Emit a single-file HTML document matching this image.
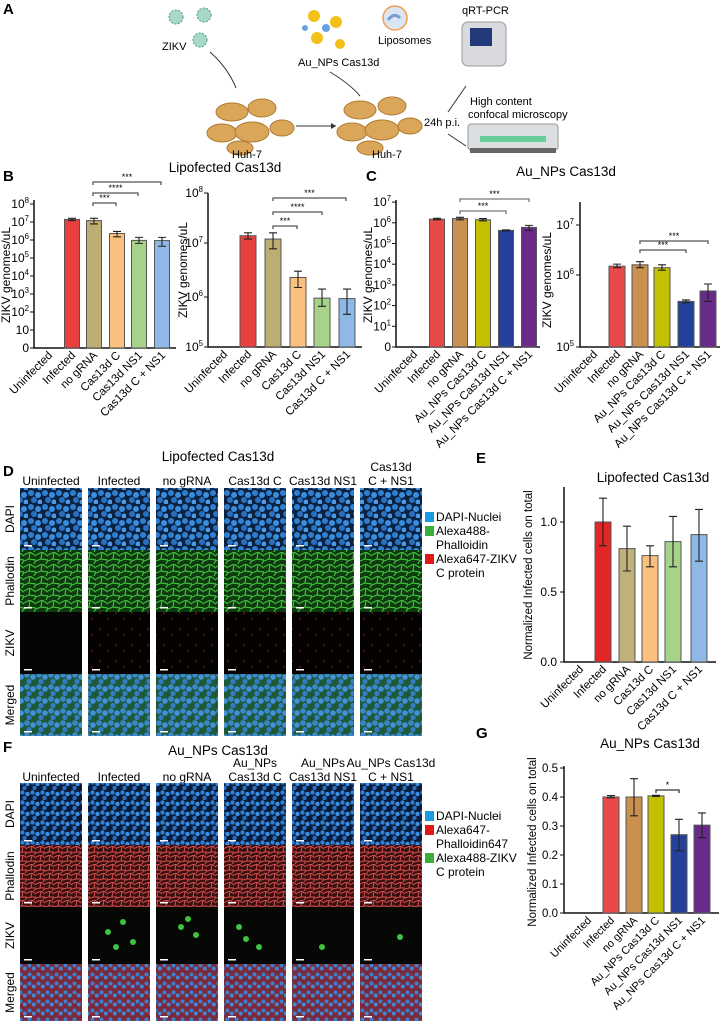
<!DOCTYPE html>
<html><head><meta charset="utf-8">
<style>
html,body{margin:0;padding:0;background:#fff;}
svg{display:block;font-family:"Liberation Sans",Arial,sans-serif;}
</style></head>
<body>
<svg id="fig" width="726" height="1022" viewBox="0 0 726 1022">
<defs>
  <pattern id="dapi" width="14" height="14" patternUnits="userSpaceOnUse">
    <rect width="14" height="14" fill="#0b2240"/>
    <circle cx="3" cy="3" r="3" fill="#2f7fd0"/><circle cx="10" cy="5" r="3" fill="#3a8ee0"/>
    <circle cx="6" cy="10" r="3" fill="#2a70c0"/><circle cx="12" cy="12" r="2.5" fill="#4a9ae8"/>
  </pattern>
  <pattern id="dapi2" width="10" height="10" patternUnits="userSpaceOnUse">
    <rect width="10" height="10" fill="#0a1c38"/>
    <circle cx="2.5" cy="2.5" r="2.2" fill="#2f80d8"/><circle cx="7.5" cy="4" r="2.2" fill="#3b90e6"/>
    <circle cx="4.5" cy="8" r="2.2" fill="#2a6fc4"/>
  </pattern>
  <pattern id="phal" width="12" height="12" patternUnits="userSpaceOnUse">
    <rect width="12" height="12" fill="#0f3a10"/>
    <path d="M0 3 L6 0 L12 4 M6 0 L5 7 L0 9 M5 7 L12 8 L10 12" stroke="#3fbf3a" stroke-width="1.2" fill="none"/>
  </pattern>
  <pattern id="phalr" width="9" height="9" patternUnits="userSpaceOnUse">
    <rect width="9" height="9" fill="#3a1010"/>
    <path d="M0 2 L5 0 L9 3 M5 0 L4 6 L0 7 M4 6 L9 6 L7 9" stroke="#d85050" stroke-width="1" fill="none"/>
  </pattern>
  <pattern id="zred" width="16" height="16" patternUnits="userSpaceOnUse">
    <rect width="16" height="16" fill="#050202"/>
    <circle cx="4" cy="5" r="0.8" fill="#a02a2a"/><circle cx="12" cy="11" r="0.8" fill="#902020"/>
  </pattern>
  <pattern id="merged" width="12" height="12" patternUnits="userSpaceOnUse">
    <rect width="12" height="12" fill="#1d5a3a"/>
    <circle cx="3" cy="3" r="2.8" fill="#3a86cf"/><circle cx="9" cy="5" r="2.8" fill="#4592d8"/>
    <circle cx="5" cy="9.5" r="2.6" fill="#357cc4"/>
  </pattern>
  <pattern id="merged2" width="9" height="9" patternUnits="userSpaceOnUse">
    <rect width="9" height="9" fill="#7a2a3a"/>
    <circle cx="2.5" cy="2.5" r="2" fill="#3a7fd0"/><circle cx="6.8" cy="5.5" r="2" fill="#4288d8"/>
  </pattern>
</defs>

<!-- Panel A -->
<g font-size="11">
  <text x="3" y="14" font-size="15" font-weight="bold">A</text>
  <g fill="#a8d8c8" stroke="#4a9a8a" stroke-dasharray="2 1.5">
    <circle cx="176" cy="17" r="7"/><circle cx="204" cy="15" r="7"/><circle cx="200" cy="40" r="7"/>
  </g>
  <text x="162" y="50">ZIKV</text>
  <path d="M210 52 Q228 68 236 88" stroke="#333" fill="none"/>
  <g fill="#d9a65a" stroke="#b07a30">
    <ellipse cx="232" cy="112" rx="16" ry="9"/><ellipse cx="262" cy="108" rx="14" ry="9"/>
    <ellipse cx="222" cy="133" rx="15" ry="9"/><ellipse cx="252" cy="132" rx="17" ry="10"/>
    <ellipse cx="282" cy="128" rx="12" ry="8"/><ellipse cx="240" cy="148" rx="13" ry="7"/>
  </g>
  <text x="232" y="158">Huh-7</text>
  <path d="M296 126 L336 126" stroke="#333"/><path d="M336 126 l-5 -3 v6z" fill="#333"/>
  <g>
    <circle cx="314" cy="16" r="6" fill="#f2c018"/><circle cx="336" cy="22" r="6" fill="#f2c018"/>
    <circle cx="317" cy="38" r="6" fill="#f2c018"/><circle cx="340" cy="44" r="5" fill="#f2c018"/>
    <circle cx="326" cy="28" r="4" fill="#6aa0e0"/><circle cx="305" cy="28" r="3" fill="#6aa0e0"/>
  </g>
  <text x="298" y="66">Au_NPs Cas13d</text>
  <g><circle cx="395" cy="18" r="12" fill="#dbe6f5" stroke="#f0a050" stroke-width="1.5"/><path d="M388 20 q6 -8 12 -2" stroke="#7a9ad0" stroke-width="3" fill="none"/></g>
  <text x="378" y="44">Liposomes</text>
  <path d="M330 72 Q350 84 360 96" stroke="#333" fill="none"/>
  <g fill="#d9a65a" stroke="#b07a30">
    <ellipse cx="360" cy="110" rx="16" ry="9"/><ellipse cx="392" cy="106" rx="14" ry="9"/>
    <ellipse cx="352" cy="132" rx="15" ry="9"/><ellipse cx="382" cy="130" rx="17" ry="10"/>
    <ellipse cx="410" cy="126" rx="12" ry="8"/><ellipse cx="370" cy="148" rx="13" ry="7"/>
  </g>
  <text x="372" y="158">Huh-7</text>
  <text x="424" y="126">24h p.i.</text>
  <path d="M448 112 L466 86 M448 134 L466 146" stroke="#333"/>
  <text x="462" y="14">qRT-PCR</text>
  <g>
    <rect x="462" y="22" width="44" height="44" rx="6" fill="#d8dade" stroke="#999"/>
    <rect x="470" y="28" width="22" height="18" fill="#223a7a"/>
  </g>
  <text x="470" y="105">High content</text>
  <text x="468" y="118">confocal microscopy</text>
  <g>
    <rect x="468" y="124" width="90" height="26" rx="3" fill="#dcdfe2" stroke="#999"/>
    <rect x="480" y="136" width="66" height="6" fill="#6c9"/>
    <rect x="470" y="148" width="86" height="5" fill="#666"/>
  </g>
</g>

<g id="charts"></g>
<g id="micro"></g>
</svg>

<script>
// ---------------- DATA ----------------
const bCategories = ["Uninfected","Infected","no gRNA","Cas13d C","Cas13d NS1","Cas13d C + NS1"];
const bValues = [0, 1.4e7, 1.2e7, 2.3e6, 9.5e5, 9.3e5];
const bErrLow = [0, 1.2e7, 7.8e6, 1.5e6, 6.5e5, 4.5e5];
const bErrHigh = [0, 1.6e7, 1.6e7, 3.0e6, 1.4e6, 1.4e6];
const bColors = ["#e8403f","#e8403f","#bcae72","#fbbf7e","#a6d28a","#8fb8e6"];

const cCategories = ["Uninfected","Infected","no gRNA","Au_NPs Cas13d C","Au_NPs Cas13d NS1","Au_NPs Cas13d C + NS1"];
const cValues = [0, 1.5e6, 1.6e6, 1.4e6, 4.3e5, 6.0e5];
const cErrLow = [0, 1.4e6, 1.4e6, 1.25e6, 4.1e5, 4.3e5];
const cErrHigh = [0, 1.65e6, 1.85e6, 1.6e6, 4.5e5, 7.5e5];
const cColors = ["#e84a4a","#e84a4a","#c99050","#c2c000","#24409a","#6a2a8a"];

const eValues = [0, 1.0, 0.81, 0.76, 0.86, 0.91];
const eErrLow = [0, 0.83, 0.65, 0.68, 0.68, 0.72];
const eErrHigh = [0, 1.17, 0.97, 0.83, 1.04, 1.09];
const eColors = ["#e22525","#e22525","#c0b07a","#fbbf7e","#a6d28a","#8fb8e6"];
const eTicks = [0, 0.5, 1.0];

const gValues = [0, 0.40, 0.40, 0.404, 0.27, 0.303];
const gErrLow = [0, 0.397, 0.335, 0.402, 0.215, 0.26];
const gErrHigh = [0, 0.405, 0.463, 0.406, 0.323, 0.345];
const gColors = ["#e84a4a","#e84a4a","#c99050","#c2c000","#24409a","#6a2a8a"];
const gTicks = [0, 0.1, 0.2, 0.3, 0.4, 0.5];

const microCols1 = ["Uninfected","Infected","no gRNA","Cas13d C","Cas13d NS1","Cas13d|C + NS1"];
const microCols2 = ["Uninfected","Infected","no gRNA","Au_NPs|Cas13d C","Au_NPs|Cas13d NS1","Au_NPs Cas13d|C + NS1"];
const microRows = ["DAPI","Phallodin","ZIKV","Merged"];

// ---------------- HELPERS ----------------
const NS = "http://www.w3.org/2000/svg";
const charts = document.getElementById("charts");
function mk(tag, attrs, parent, text){
  const e = document.createElementNS(NS, tag);
  for (const k in attrs) e.setAttribute(k, attrs[k]);
  if (text !== undefined) e.textContent = text;
  (parent || charts).appendChild(e);
  return e;
}
function supText(parent, x, y, base, exp, size){
  const t = mk("text", {x:x, y:y, "text-anchor":"end", "font-size":size}, parent);
  
  
  const s1 = document.createElementNS(NS,"tspan"); s1.textContent = base; t.appendChild(s1);
  if (exp !== null){
    const s2 = document.createElementNS(NS,"tspan"); s2.textContent = exp;
    s2.setAttribute("dy","-5"); s2.setAttribute("font-size", size*0.65); t.appendChild(s2);
  }
}

function logScaleB(v){ const y0=348, per=18; return v<=0 ? y0 : y0 - Math.log10(v)*per; }
function logScaleB2(v){ const y0=347, y1=297, y2=243, y3=193; if(v<=1e5) return y0; const l=Math.log10(v);
  if (l<=6) return y0-(l-5)*(y0-y1); if (l<=7) return y1-(l-6)*(y1-y2); return y2-(l-7)*(y2-y3); }
function logScaleC(v){ const y0=347, per=20.7; return v<=0 ? y0 : y0 - Math.log10(v)*per; }
function logScaleC2(v){ const y0=347, y1=275, y2=225; if(v<=1e5) return y0; const l=Math.log10(v);
  if (l<=6) return y0-(l-5)*(y0-y1); return y1-(l-6)*(y1-y2); }
function linE(v){ return 662 - v*140; }
function linG(v){ return 913 - v*290; }

function drawBars(g, name, xs, w, vals, lo, hi, cols, scale, baseY, cats, labelSize){
  for (let i=0;i<vals.length;i++){
    if (vals[i] > 0){
      const y = scale(vals[i]);
      const r = mk("rect", {x:xs[i]-w/2, y:y, width:w, height:baseY-y, fill:cols[i], stroke:"#555", "stroke-width":1}, g);
      
      
      const yl = scale(lo[i]), yh = scale(hi[i]);
      const eb = mk("path", {d:`M${xs[i]} ${yl}V${yh}M${xs[i]-4} ${yl}h8M${xs[i]-4} ${yh}h8`, stroke:"#222", "stroke-width":1.1, fill:"none"}, g);
      
      
    }
    const t = mk("text", {x:xs[i]+4, y:baseY+8, "text-anchor":"end", "font-size":labelSize,
      transform:`rotate(-45 ${xs[i]+4} ${baseY+8})`}, g, cats[i]);
    
    
  }
}
function sig(g, x1, x2, y, label, color){
  const p = mk("path", {d:`M${x1} ${y+3}V${y}H${x2}V${y+3}`, stroke:color||"#555", "stroke-width":1.3, fill:"none"}, g);
  
  
  const t = mk("text", {x:(x1+x2)/2, y:y-2, "text-anchor":"middle", "font-size":9}, g, label);
  
  
}
function axes(g, x, yTop, yBot, xEnd){
  const a = mk("path", {d:`M${x} ${yTop}V${yBot}H${xEnd}`, stroke:"#111", "stroke-width":1.5, fill:"none"}, g);
  
  
}
function ylabel(g, x, y, txt, size){
  const t = mk("text", {x:x, y:y, "text-anchor":"middle", "font-size":size, transform:`rotate(-90 ${x} ${y})`}, g, txt);
  
  
}
function title(g, x, y, txt, name){
  const t = mk("text", {x:x, y:y, "text-anchor":"middle", "font-size":13.5}, g, txt);
  
  
}
function letter(g, x, y, L){
  const t = mk("text", {x:x, y:y, "font-size":15, "font-weight":"bold"}, g, L);
  
  
}

// ---------------- PANEL B ----------------
const gB = mk("g", {}, charts);


letter(gB, 3, 181, "B");
title(gB, 225, 172, "Lipofected Cas13d", "panel-b-title");
axes(gB, 34, 200, 348, 176);
const bExp = ["8","7","6","5","4","3","2"];
for (let i=0;i<bExp.length;i++){ const v=Math.pow(10, +bExp[i]); const y=logScaleB(v);
  mk("path",{d:`M30 ${y}h4`,stroke:"#111"},gB); supText(gB, 29, y+4, "10", bExp[i], 12); }
mk("path",{d:`M30 330h4`,stroke:"#111"},gB); supText(gB, 29, 334, "10", null, 12);
mk("path",{d:`M30 348h4`,stroke:"#111"},gB); supText(gB, 29, 352, "0", null, 12);
ylabel(gB, 10, 275, "ZIKV genomes/uL", 12);
drawBars(gB, "b-left", [49,72,94,117,139,162], 15, bValues, bErrLow, bErrHigh, bColors, logScaleB, 348, bCategories, 11.5);
sig(gB, 93, 161, 182, "***"); sig(gB, 93, 138, 193, "****"); sig(gB, 93, 116, 203, "***");

axes(gB, 208, 193, 347, 362);
[["8",1e8],["7",1e7],["6",1e6],["5",1e5]].forEach(d=>{ const y=logScaleB2(d[1]);
  mk("path",{d:`M204 ${y}h4`,stroke:"#111"},gB); supText(gB, 203, y+4, "10", d[0], 12); });
ylabel(gB, 187, 270, "ZIKV genomes/uL", 12);
drawBars(gB, "b-right", [224,248,273,298,322,347], 16, bValues, bErrLow, bErrHigh, bColors, logScaleB2, 347, bCategories, 11.5);
sig(gB, 273, 346, 198, "***"); sig(gB, 273, 322, 212, "****"); sig(gB, 273, 297, 226, "***");

// ---------------- PANEL C ----------------
const gC = mk("g", {}, charts);


letter(gC, 366, 181, "C");
title(gC, 566, 176, "Au_NPs Cas13d", "panel-c-title");
axes(gC, 396, 200, 347, 540);
["7","6","5","4","3","2","1"].forEach(e=>{ const y=logScaleC(Math.pow(10,+e));
  mk("path",{d:`M392 ${y}h4`,stroke:"#111"},gC); supText(gC, 391, y+4, "10", e, 12); });
mk("path",{d:`M392 347h4`,stroke:"#111"},gC); supText(gC, 391, 351, "0", null, 12);
ylabel(gC, 372, 275, "ZIKV genomes/uL", 12);
drawBars(gC, "c-left", [414,437,460,483,506,529], 15, cValues, cErrLow, cErrHigh, cColors, logScaleC, 347, cCategories, 11.5);
sig(gC, 460, 529, 199, "***", "#777"); sig(gC, 460, 506, 211, "***", "#777");

axes(gC, 580, 202, 347, 720);
[["7",1e7],["6",1e6],["5",1e5]].forEach(d=>{ const y=logScaleC2(d[1]);
  mk("path",{d:`M576 ${y}h4`,stroke:"#111"},gC); supText(gC, 574, y+4, "10", d[0], 12); });
ylabel(gC, 551, 280, "ZIKV genomes/uL", 12);
drawBars(gC, "c-right", [594,617,640,662,686,708], 16, cValues, cErrLow, cErrHigh, cColors, logScaleC2, 347, cCategories, 11.5);
sig(gC, 640, 708, 241, "***"); sig(gC, 640, 686, 250, "***");

// ---------------- PANEL E ----------------
const gE = mk("g", {}, charts);


letter(gE, 476, 463, "E");
title(gE, 653, 482, "Lipofected Cas13d", "panel-e-title");
axes(gE, 564, 487, 662, 716);
eTicks.forEach(v=>{ const y=linE(v); mk("path",{d:`M560 ${y}h4`,stroke:"#111"},gE);
  const t=mk("text",{x:557,y:y+4,"text-anchor":"end","font-size":12},gE,v.toFixed(1));
    });
ylabel(gE, 532, 575, "Normalized Infected cells on total", 11.5);
drawBars(gE, "e", [580,603,627,650,673,699], 16, eValues, eErrLow, eErrHigh, eColors, linE, 662, bCategories, 11.5);

// ---------------- PANEL G ----------------
const gG = mk("g", {}, charts);


letter(gG, 476, 738, "G");
title(gG, 650, 748, "Au_NPs Cas13d", "panel-g-title");
axes(gG, 564, 766, 913, 719);
gTicks.forEach(v=>{ const y=linG(v); mk("path",{d:`M560 ${y}h4`,stroke:"#111"},gG);
  const t=mk("text",{x:558,y:y+4,"text-anchor":"end","font-size":11.5},gG,v.toFixed(1));
    });
ylabel(gG, 536, 842, "Normalized Infected cells on total", 11.5);
drawBars(gG, "g", [588,611,634,656,679,702], 16, gValues, gErrLow, gErrHigh, gColors, linG, 913, cCategories, 11);
sig(gG, 656, 679, 790, "*", "#333");

// ---------------- MICROSCOPY ----------------
const micro = document.getElementById("micro");
const colX = [20,88,156,224,292,360];
function microPanel(name, L, letterY, titleTxt, titleY, cols, colLabelY, rowTops, rowH, fills, legend, legendY){
  const g = mk("g", {}, micro);
  
  
  letter(g, 3, letterY, L);
  title(g, 218, titleY, titleTxt, name+'-title');
  cols.forEach((c,i)=>{
    const parts = c.split("|");
    parts.forEach((p,j)=>{
      const t = mk("text",{x:colX[i]+31,y:colLabelY - (parts.length-1-j)*14,"text-anchor":"middle","font-size":12},g,p);
       
    });
  });
  microRows.forEach((r,ri)=>{
    const y = rowTops[ri];
    const t = mk("text",{x:14,y:y+rowH[ri]/2,"text-anchor":"middle","font-size":12,transform:`rotate(-90 14 ${y+rowH[ri]/2})`},g,r);
     
    colX.forEach((x,ci)=>{
      let f = fills[ri];
      if (ri===2 && ci===0) f = "#050505";
      const im = mk("rect",{x:x,y:y,width:62,height:rowH[ri],fill:f},g);
      
      
      mk("rect",{x:x+4,y:y+rowH[ri]-5,width:8,height:1.5,fill:"#fff"},g);
    });
  });
  legend.forEach((l,i)=>{
    if (l[1]){ const sw = mk("rect",{x:425,y:legendY+l[2]-9,width:9,height:10,fill:l[1]},g);
        }
    const t = mk("text",{x:436,y:legendY+l[2],"font-size":12},g,l[0]);
     
  });
}
microPanel("panel-d-lipofected-microscopy","D",476,"Lipofected Cas13d",461,microCols1,485,
  [488,550,612,674],[62,62,62,62],["url(#dapi)","url(#phal)","url(#zred)","url(#merged)"],
  [["DAPI-Nuclei","#1a9ae0",0],["Alexa488-","#3aae3a",14],["Phalloidin",null,28],["Alexa647-ZIKV","#e01818",42],["C protein",null,56]],521);
microPanel("panel-f-aunps-microscopy","F",752,"Au_NPs Cas13d",755,microCols2,781,
  [783,845,907,964],[62,62,57,57],["url(#dapi2)","url(#phalr)","#050805","url(#merged2)"],
  [["DAPI-Nuclei","#1a9ae0",0],["Alexa647-","#e01818",14],["Phalloidin647",null,28],["Alexa488-ZIKV","#3aae3a",42],["C protein",null,56]],820);
const fz = [[1,20,25],[1,35,15],[1,45,35],[1,28,40],[2,25,20],[2,40,28],[2,32,12],[3,15,20],[3,35,40],[3,22,32],[4,30,40],[5,40,30]];
fz.forEach(p=>{ const c = mk("circle",{cx:colX[p[0]]+p[1],cy:907+p[2],r:3,fill:"#3fc23f"},micro);
    });
</script>
</body></html>
